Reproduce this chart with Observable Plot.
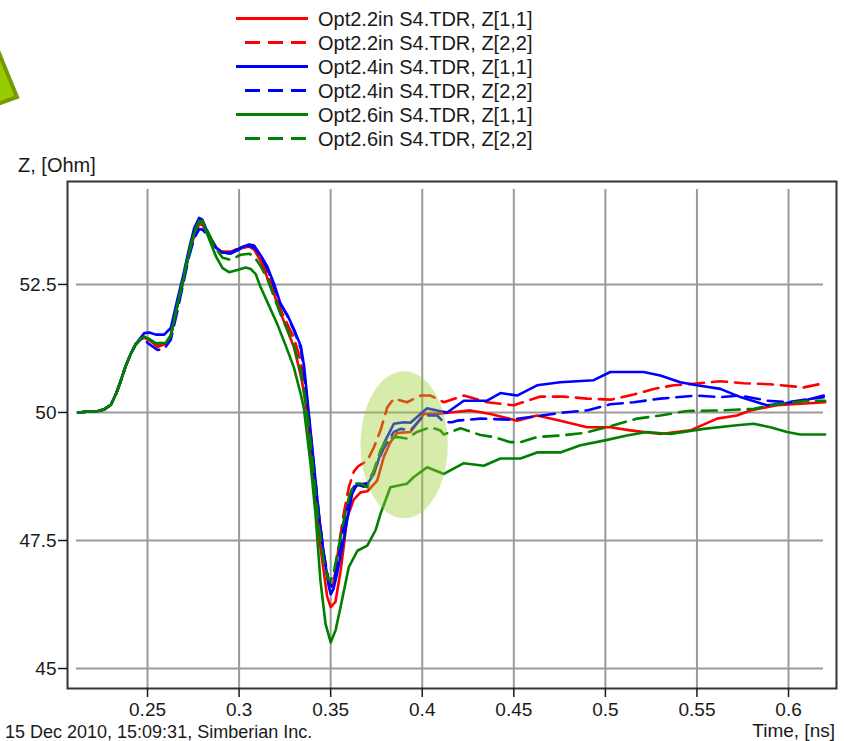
<!DOCTYPE html>
<html>
<head>
<meta charset="utf-8">
<script src="https://cdn.jsdelivr.net/npm/d3@7"></script>
<script src="https://cdn.jsdelivr.net/npm/@observablehq/plot@0.6"></script>
<style>
  body { margin: 0; background: #fff; }
  #wrap { position: relative; width: 844px; height: 741px; overflow: hidden;
          font-family: "Liberation Sans", Arial, sans-serif; color: #1a1a1a; background: #fff; }
  #arrow { position: absolute; left: 0; top: 0; }
  #legend { position: absolute; left: 0; top: 0; }
  #chart { position: absolute; left: 0; top: 150px; }
  .lbl { position: absolute; white-space: nowrap; line-height: 18px; }
</style>
</head>
<body>
<div id="wrap">
  <svg id="arrow" width="40" height="130">
    <polygon points="-8,36 17,97 -8,106" fill="#99cc00" stroke="#749c00" stroke-width="4" stroke-linejoin="miter"/>
  </svg>
  <svg id="legend" width="844" height="150"></svg>
  <div id="chart"></div>
  <div class="lbl" style="left:18px; top:156px; font-size:20px;">Z, [Ohm]</div>
  <div class="lbl" style="right:9px; top:722px; font-size:19px;">Time, [ns]</div>
  <div class="lbl" style="left:5px; top:723px; font-size:18px;">15 Dec 2010, 15:09:31, Simberian Inc.</div>
</div>
<script>
// Impedance profiles, time in ns, Z in Ohm
const opt22_z11 = [[0.2123,50.00],[0.2180,50.02],[0.2230,50.03],[0.2264,50.06],[0.2300,50.15],[0.2330,50.38],[0.2354,50.62],[0.2380,50.90],[0.2409,51.15],[0.2435,51.33],[0.2460,51.43],
  [0.2482,51.46],[0.2515,51.40],[0.2555,51.28],[0.2600,51.34],[0.2627,51.50],[0.2664,52.10],[0.2691,52.50],[0.2727,53.10],[0.2755,53.45],[0.2782,53.68],[0.2800,53.66],[0.2818,53.55],[0.2846,53.38],[0.2873,53.22],[0.2910,53.12],[0.2955,53.12],[0.3009,53.20],[0.3055,53.24],[0.3082,53.18],[0.3119,52.95],[0.3155,52.62],[0.3192,52.30],[0.3226,51.95],[0.3264,51.60],[0.3299,51.28],[0.3325,50.90],[0.3344,50.60],[0.3372,49.97],[0.3408,48.70],[0.3444,47.37],[0.3481,46.40],[0.3500,46.20],[0.3526,46.30],[0.3554,46.90],[0.3572,47.40],[0.3590,47.95],[0.3626,48.30],[0.3663,48.44],[0.3700,48.46],[0.3754,48.67],[0.3790,49.13],[0.3826,49.42],[0.3863,49.60],[0.3936,49.62],[0.4009,49.97],[0.4081,49.97],[0.4154,50.00],[0.4263,50.04],[0.4373,49.97],[0.4518,49.84],[0.4627,49.94],[0.4754,49.84],[0.4900,49.71],[0.5027,49.71],[0.5136,49.65],[0.5300,49.58],[0.5464,49.65],[0.5610,49.88],[0.5718,49.94],[0.5792,50.04],[0.5937,50.14],[0.6068,50.17],[0.6200,50.20]];

const opt22_z22 = [[0.2123,50.00],[0.2180,50.02],[0.2230,50.03],[0.2264,50.06],[0.2300,50.15],[0.2330,50.38],[0.2354,50.62],[0.2380,50.90],[0.2409,51.15],[0.2435,51.33],[0.2460,51.43],
  [0.2482,51.48],[0.2515,51.42],[0.2555,51.30],[0.2600,51.36],[0.2627,51.50],[0.2664,52.12],[0.2691,52.52],[0.2727,53.12],[0.2755,53.50],[0.2782,53.70],[0.2800,53.68],[0.2818,53.56],[0.2846,53.40],[0.2873,53.24],[0.2910,53.14],[0.2955,53.14],[0.3009,53.22],[0.3055,53.26],[0.3082,53.22],[0.3119,53.00],[0.3155,52.72],[0.3192,52.40],[0.3228,52.00],[0.3264,51.72],[0.3300,51.45],[0.3337,51.00],[0.3360,50.50],[0.3385,49.80],[0.3410,48.90],[0.3438,47.95],[0.3465,47.15],[0.3490,46.65],[0.3505,46.55],[0.3520,46.75],[0.3545,47.40],[0.3570,48.00],[0.3600,48.55],[0.3627,48.85],[0.3650,48.95],[0.3700,49.06],[0.3736,49.32],[0.3772,49.65],[0.3809,50.10],[0.3845,50.27],[0.3917,50.20],[0.3991,50.33],[0.4045,50.33],[0.4118,50.20],[0.4227,50.33],[0.4354,50.20],[0.4500,50.14],[0.4645,50.31],[0.4773,50.31],[0.4900,50.27],[0.5027,50.25],[0.5155,50.35],[0.5264,50.46],[0.5373,50.53],[0.5482,50.56],[0.5628,50.61],[0.5755,50.57],[0.5901,50.55],[0.6083,50.49],[0.6192,50.57]];

const opt24_z11 = [[0.2123,50.00],[0.2180,50.02],[0.2230,50.03],[0.2264,50.06],[0.2300,50.15],[0.2330,50.38],[0.2354,50.62],[0.2380,50.90],[0.2409,51.15],[0.2435,51.33],[0.2460,51.45],
  [0.2482,51.55],[0.2510,51.56],[0.2545,51.52],[0.2591,51.52],[0.2627,51.65],[0.2664,52.22],[0.2691,52.62],[0.2727,53.20],[0.2755,53.60],[0.2782,53.80],[0.2800,53.76],[0.2818,53.60],[0.2846,53.40],[0.2873,53.22],[0.2910,53.12],[0.2955,53.12],[0.3009,53.22],[0.3055,53.28],[0.3082,53.26],[0.3119,53.06],[0.3155,52.84],[0.3192,52.50],[0.3228,52.10],[0.3264,51.90],[0.3300,51.62],[0.3337,51.30],[0.3355,50.90],[0.3380,50.00],[0.3408,49.00],[0.3435,48.02],[0.3462,47.24],[0.3490,46.60],[0.3500,46.45],[0.3515,46.55],[0.3535,46.85],[0.3563,47.37],[0.3590,47.90],[0.3617,48.41],[0.3645,48.60],[0.3681,48.55],[0.3700,48.60],[0.3736,48.80],[0.3790,49.39],[0.3845,49.78],[0.3900,49.81],[0.3936,49.80],[0.3990,49.97],[0.4027,50.08],[0.4081,50.04],[0.4136,50.00],[0.4227,50.23],[0.4354,50.23],[0.4427,50.38],[0.4518,50.33],[0.4627,50.53],[0.4754,50.59],[0.4936,50.63],[0.5027,50.79],[0.5209,50.79],[0.5300,50.72],[0.5409,50.59],[0.5500,50.53],[0.5628,50.46],[0.5737,50.30],[0.5883,50.14],[0.5955,50.17],[0.6083,50.23],[0.6192,50.33]];

const opt24_z22 = [[0.2123,50.00],[0.2180,50.02],[0.2230,50.03],[0.2264,50.06],[0.2300,50.15],[0.2330,50.38],[0.2354,50.62],[0.2380,50.90],[0.2409,51.15],[0.2435,51.33],[0.2460,51.42],
  [0.2482,51.45],[0.2500,51.36],[0.2555,51.22],[0.2591,51.24],[0.2627,51.42],[0.2664,52.00],[0.2691,52.45],[0.2727,53.05],[0.2755,53.40],[0.2782,53.58],[0.2800,53.57],[0.2818,53.50],[0.2846,53.35],[0.2873,53.22],[0.2910,53.12],[0.2955,53.10],[0.3009,53.20],[0.3055,53.25],[0.3082,53.22],[0.3119,53.05],[0.3155,52.80],[0.3192,52.45],[0.3228,52.12],[0.3264,51.88],[0.3300,51.60],[0.3337,51.25],[0.3355,50.80],[0.3380,49.90],[0.3408,48.95],[0.3435,48.00],[0.3462,47.25],[0.3490,46.70],[0.3505,46.60],[0.3520,46.75],[0.3545,47.20],[0.3570,47.75],[0.3600,48.30],[0.3627,48.55],[0.3663,48.60],[0.3700,48.62],[0.3736,48.85],[0.3790,49.30],[0.3845,49.62],[0.3881,49.68],[0.3936,49.65],[0.4008,49.94],[0.4081,49.94],[0.4118,49.81],[0.4163,49.81],[0.4190,49.84],[0.4318,49.88],[0.4481,49.86],[0.4591,49.91],[0.4773,50.00],[0.4900,50.04],[0.5027,50.16],[0.5155,50.20],[0.5300,50.27],[0.5500,50.33],[0.5628,50.30],[0.5737,50.33],[0.5883,50.23],[0.5992,50.20],[0.6192,50.30]];

const opt26_z11 = [[0.2123,50.00],[0.2180,50.02],[0.2230,50.03],[0.2264,50.06],[0.2300,50.15],[0.2330,50.38],[0.2354,50.62],[0.2380,50.90],[0.2409,51.15],[0.2435,51.33],[0.2460,51.43],
  [0.2482,51.48],[0.2515,51.42],[0.2545,51.35],[0.2600,51.36],[0.2627,51.50],[0.2664,52.10],[0.2691,52.52],[0.2727,53.12],[0.2755,53.50],[0.2782,53.74],[0.2800,53.72],[0.2818,53.55],[0.2846,53.30],[0.2873,53.05],[0.2910,52.82],[0.2945,52.74],[0.2991,52.78],[0.3036,52.83],[0.3064,52.80],[0.3091,52.70],[0.3117,52.45],[0.3155,52.15],[0.3208,51.73],[0.3255,51.30],[0.3299,50.88],[0.3337,50.35],[0.3353,50.10],[0.3390,49.00],[0.3417,48.02],[0.3444,46.72],[0.3472,45.87],[0.3500,45.51],[0.3527,45.75],[0.3554,46.20],[0.3599,46.98],[0.3646,47.30],[0.3700,47.40],[0.3745,47.70],[0.3772,48.02],[0.3826,48.54],[0.3917,48.61],[0.3954,48.74],[0.4027,48.93],[0.4118,48.80],[0.4227,49.01],[0.4336,48.96],[0.4427,49.10],[0.4536,49.10],[0.4627,49.22],[0.4754,49.22],[0.4864,49.36],[0.4991,49.45],[0.5118,49.55],[0.5227,49.62],[0.5355,49.58],[0.5537,49.68],[0.5718,49.75],[0.5810,49.78],[0.5901,49.71],[0.5992,49.62],[0.6064,49.57],[0.6200,49.57]];

const opt26_z22 = [[0.2123,50.00],[0.2180,50.02],[0.2230,50.03],[0.2264,50.06],[0.2300,50.15],[0.2330,50.38],[0.2354,50.62],[0.2380,50.90],[0.2409,51.15],[0.2435,51.33],[0.2460,51.43],
  [0.2482,51.48],[0.2515,51.42],[0.2545,51.35],[0.2600,51.36],[0.2627,51.50],[0.2664,52.12],[0.2691,52.55],[0.2727,53.15],[0.2755,53.52],[0.2782,53.74],[0.2800,53.74],[0.2818,53.62],[0.2846,53.40],[0.2873,53.20],[0.2910,53.02],[0.2955,52.98],[0.3009,53.08],[0.3055,53.10],[0.3082,53.05],[0.3119,52.85],[0.3155,52.60],[0.3192,52.25],[0.3228,51.90],[0.3264,51.62],[0.3300,51.30],[0.3337,50.80],[0.3360,50.30],[0.3385,49.60],[0.3410,48.70],[0.3435,47.80],[0.3460,47.15],[0.3485,46.75],[0.3500,46.70],[0.3518,46.90],[0.3545,47.40],[0.3572,47.90],[0.3600,48.35],[0.3627,48.61],[0.3663,48.61],[0.3700,48.54],[0.3736,48.87],[0.3772,49.26],[0.3809,49.49],[0.3863,49.52],[0.3917,49.49],[0.3971,49.62],[0.4044,49.71],[0.4099,49.65],[0.4118,49.57],[0.4209,49.69],[0.4318,49.56],[0.4391,49.52],[0.4481,49.42],[0.4536,49.42],[0.4627,49.52],[0.4754,49.55],[0.4882,49.60],[0.4973,49.68],[0.5046,49.75],[0.5173,49.88],[0.5300,49.94],[0.5446,50.03],[0.5628,50.04],[0.5810,50.07],[0.5937,50.16],[0.6083,50.22],[0.6200,50.23]];

const seriesNames = ["Opt2.2in S4.TDR, Z[1,1]", "Opt2.2in S4.TDR, Z[2,2]", "Opt2.4in S4.TDR, Z[1,1]",
                     "Opt2.4in S4.TDR, Z[2,2]", "Opt2.6in S4.TDR, Z[1,1]", "Opt2.6in S4.TDR, Z[2,2]"];
const seriesColors = ["#ff0000", "#ff0000", "#0000ff", "#0000ff", "#008000", "#008000"];
const seriesDashed = [false, true, false, true, false, true];
const seriesData = [opt22_z11, opt22_z22, opt24_z11, opt24_z22, opt26_z11, opt26_z22];

const xTicks = [0.25, 0.3, 0.35, 0.4, 0.45, 0.5, 0.55, 0.6];
const yTicks = [45, 47.5, 50, 52.5];
const xDomain = [0.2063, 0.6262];
const yDomain = [44.61, 54.51];

// highlighted region around the post-dip recovery (centre and half-axes in data units)
const highlightCenter = [0.3904, 49.36];
const highlightRadius = [0.0238, 1.435];

const DASH = "15,8";

// ---- legend ----
const legend = d3.select("#legend");
seriesNames.forEach((name, i) => {
  const cy = 18.5 + i * 24;
  legend.append("line")
    .attr("x1", seriesDashed[i] ? 245 : 236).attr("x2", 308)
    .attr("y1", cy).attr("y2", cy)
    .attr("stroke", seriesColors[i]).attr("stroke-width", 3)
    .attr("stroke-dasharray", seriesDashed[i] ? DASH : null);
  legend.append("text")
    .attr("x", 318).attr("y", cy + 7)
    .attr("font-size", 20).attr("fill", "#1a1a1a")
    .attr("font-family", "Liberation Sans, Arial, sans-serif")
    .text(name);
});

// ---- chart ----
function highlight(index, scales) {
  const {x, y} = scales;
  const cx = x(highlightCenter[0]), cy = y(highlightCenter[1]);
  const rx = Math.abs(x(highlightCenter[0] + highlightRadius[0]) - cx);
  const ry = Math.abs(y(highlightCenter[1] + highlightRadius[1]) - cy);
  return d3.create("svg:ellipse")
    .attr("cx", cx).attr("cy", cy).attr("rx", rx).attr("ry", ry)
    .attr("fill", "#9ccc2e").attr("fill-opacity", 0.4)
    .node();
}

const lineMarks = seriesData.map((rows, i) =>
  Plot.line(rows, {
    x: d => d[0], y: d => d[1],
    stroke: seriesColors[i], strokeWidth: 2.6,
    strokeDasharray: seriesDashed[i] ? DASH : undefined
  })
);

const chart = Plot.plot({
  width: 844,
  height: 591,
  marginTop: 31,
  marginBottom: 53,
  marginLeft: 67,
  marginRight: 8,
  style: {fontFamily: "Liberation Sans, Arial, sans-serif", fontSize: "19px", color: "#1a1a1a", background: "transparent"},
  x: {domain: xDomain},
  y: {domain: yDomain},
  marks: [
    Plot.ruleX(xTicks, {stroke: "#9a9a9a", strokeWidth: 2, insetTop: 8}),
    Plot.ruleY(yTicks, {stroke: "#9a9a9a", strokeWidth: 2, insetLeft: 9, insetRight: 13}),
    ...lineMarks,
    highlight,
    Plot.frame({stroke: "#333", strokeWidth: 2}),
    Plot.axisX({ticks: xTicks, tickFormat: d => String(+d.toFixed(2)), tickSize: 9, tickPadding: 5, label: null, strokeWidth: 1.5}),
    Plot.axisY({ticks: yTicks, tickFormat: d => String(d), tickSize: 9, tickPadding: 2, label: null, strokeWidth: 1.5})
  ]
});
document.getElementById("chart").appendChild(chart);
</script>
</body>
</html>
